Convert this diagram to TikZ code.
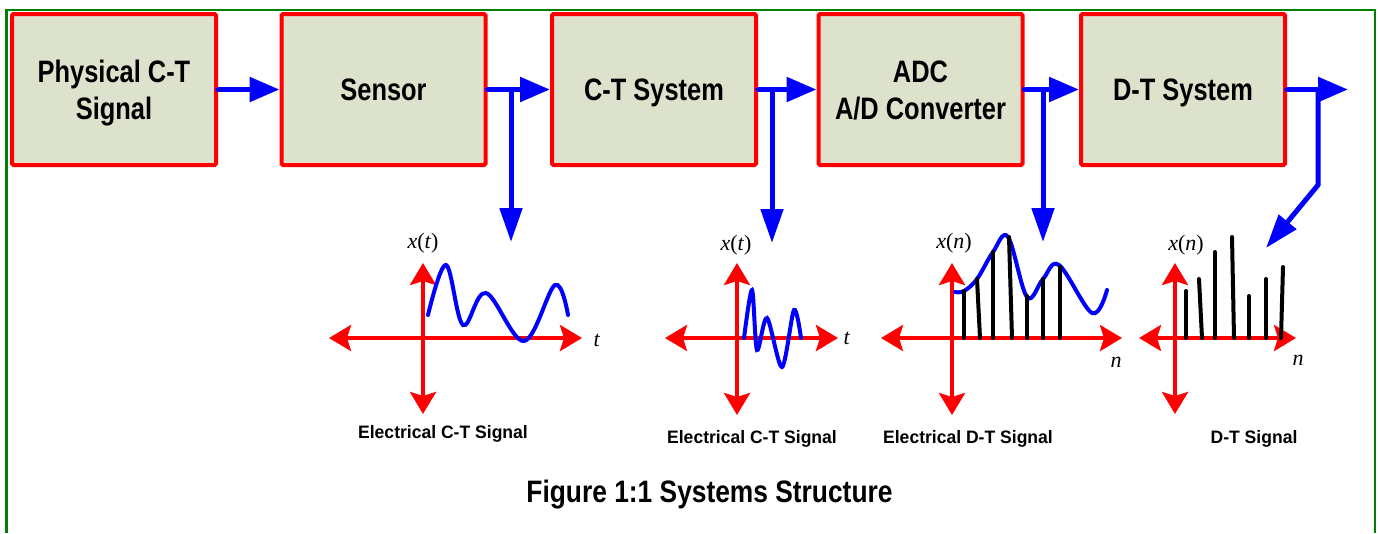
\documentclass[tikz,border=0pt]{standalone}
\usepackage{fontspec}
\setmainfont{Liberation Sans}
\newfontfamily\boxfont[FakeStretch=0.82]{Liberation Sans}
\newfontfamily\capfont[FakeStretch=0.85]{Liberation Sans}
\newfontfamily\lblfont[FakeStretch=0.975]{Liberation Sans}
\newfontfamily\mathfnt{Liberation Serif}
\usetikzlibrary{arrows.meta}
\definecolor{boxfill}{RGB}{221,226,204}
\definecolor{framegreen}{RGB}{0,128,0}
\definecolor{sred}{RGB}{255,0,0}
\definecolor{sblue}{RGB}{0,0,255}
\newcommand\sigx[1]{{\mathfnt\fontsize{22}{24}\selectfont\textit{x}(\textit{#1})}}
\newcommand\sigv[1]{{\mathfnt\fontsize{22}{24}\selectfont\textit{#1}}}
\begin{document}
\begin{tikzpicture}[x=1pt,y=-1pt,
  blk/.style={draw=sred, line width=4pt, fill=boxfill, minimum width=204pt, minimum height=151pt,
    inner sep=0pt, align=center, rounded corners=1.5pt, text height=22pt, text depth=0pt,
    font=\boxfont\bfseries\fontsize{31}{37}\selectfont},
  blk2/.style={blk, text height=59pt, text depth=0pt},
  flow/.style={draw=sblue, line width=5.5pt, line cap=round, -{Triangle[length=30pt,width=24pt]}},
  branch/.style={draw=sblue, line width=5pt, -{Triangle[length=34pt,width=22pt]}},
  axis/.style={draw=sred, line width=4pt,
    {Stealth[length=22pt,width=26pt,inset=4pt]}-{Stealth[length=22pt,width=26pt,inset=4pt]}},
  sigc/.style={draw=sblue, line width=4pt, line cap=round},
  stem/.style={draw=black, line width=4pt, line cap=round},
  lbl/.style={font=\lblfont\bfseries\fontsize{18}{20}\selectfont, anchor=base, inner sep=0pt},
  mlbl/.style={inner sep=0pt}
]
\useasboundingbox (0,0) rectangle (1378,533);
% frame
\draw[framegreen, line width=2.5pt] (6.5,533) -- (6.5,10) -- (1375,10) -- (1375,533);

% blocks
\node[blk2] (b1) at (114,89.5) {Physical C-T\\Signal};
\node[blk] (b2) at (383.5,89.5) {Sensor};
\node[blk] (b3) at (654,89.5) {C-T System};
\node[blk2] (b4) at (920.5,89.5) {ADC\\A/D Converter};
\node[blk] (b5) at (1183,89.5) {D-T System};

% main flow
\draw[flow] (b1.east) -- (b2.west);
\draw[flow] (b2.east) -- (b3.west);
\draw[flow] (b3.east) -- (b4.west);
\draw[flow] (b4.east) -- (b5.west);
\coordinate (out) at (1348,89.5);
\draw[flow] (b5.east) -- (out);

% branches
\coordinate (j2) at (511,89.5);  \coordinate (t2) at (511,242);
\coordinate (j3) at (772,89.5);  \coordinate (t3) at (772,243);
\coordinate (j4) at (1043,89.5); \coordinate (t4) at (1043,242);
\coordinate (j5) at (1318,89.5); \coordinate (k5) at (1318,185); \coordinate (t5) at (1266,248);
\draw[branch] (j2) -- (t2);
\draw[branch] (j3) -- (t3);
\draw[branch] (j4) -- (t4);
\draw[branch] (j5) -- (k5) -- (t5);

% plot 1
\draw[axis] (329,338) -- (582,338);
\draw[axis] (423,263) -- (423,414);
\draw[sigc] plot[smooth, tension=0.6] coordinates {(428,315) (446,265) (463,325) (486,293) (524,341) (555,285) (568,315)};
\node[mlbl] (p1y) at (423,243) {\sigx{t}};
\node[mlbl] (p1x) at (597,340) {\sigv{t}};
\node[lbl] (p1l) at (443,438) {Electrical C-T Signal};

% plot 2
\draw[axis] (665,338) -- (838,338);
\draw[axis] (737,263) -- (737,415);
\draw[sigc] plot[smooth, tension=0.5] coordinates {(744,338) (752,290) (757,350) (767,318) (782,367) (794,310) (801,338)};
\node[mlbl] (p2y) at (736,245) {\sigx{t}};
\node[mlbl] (p2x) at (847,338) {\sigv{t}};
\node[lbl] (p2l) at (752,443) {Electrical C-T Signal};

% plot 3
\draw[axis] (881,338) -- (1122,338);
\draw[axis] (952,263) -- (952,415);
\draw[sigc] plot[smooth, tension=0.6] coordinates {(955,292) (964,291) (977,279) (993,252) (1008,237) (1027,297) (1043,279) (1059,265) (1092,313) (1107,290)};
\draw[stem] (964,338) -- (964,291);
\draw[stem] (980,338) -- (977,279);
\draw[stem] (993,338) -- (993,252);
\draw[stem] (1012,338) -- (1009,237);
\draw[stem] (1027,338) -- (1027,296);
\draw[stem] (1043,338) -- (1043,279);
\draw[stem] (1060,338) -- (1060,267);
\node[mlbl] (p3y) at (954,243) {\sigx{n}};
\node[mlbl] (p3x) at (1116,362) {\sigv{n}};
\node[lbl] (p3l) at (968,443) {Electrical D-T Signal};

% plot 4
\draw[axis] (1139,338) -- (1296,338);
\draw[axis] (1175,263) -- (1175,414);
\draw[stem] (1186,338) -- (1186,291);
\draw[stem] (1202,338) -- (1199,279);
\draw[stem] (1215,338) -- (1215,252);
\draw[stem] (1234,338) -- (1232,237);
\draw[stem] (1249,338) -- (1249,296);
\draw[stem] (1266,338) -- (1266,279);
\draw[stem] (1281,338) -- (1283,267);
\node[mlbl] (p4y) at (1186,245) {\sigx{n}};
\node[mlbl] (p4x) at (1298,360) {\sigv{n}};
\node[lbl] (p4l) at (1254,443) {D-T Signal};

% caption
\node[font=\capfont\bfseries\fontsize{31}{34}\selectfont, anchor=base, inner sep=0pt] (cap) at (709.5,502) {Figure 1:1 Systems Structure};
\end{tikzpicture}
\end{document}
